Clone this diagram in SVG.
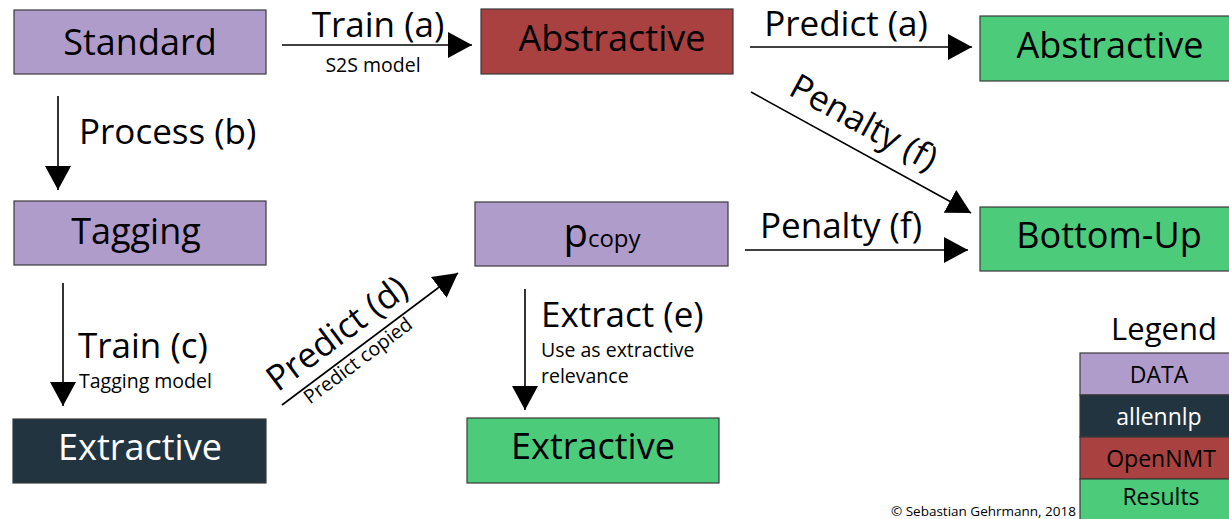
<svg xmlns="http://www.w3.org/2000/svg" width="1229" height="519" viewBox="0 0 1229 519">
<style>
text{font-family:"Open Sans","Liberation Sans",sans-serif;fill:#000}
.box{stroke:#3a3a3a;stroke-width:1.2}
.data{fill:#b09ccb}
.nlp{fill:#22343f}
.nmt{fill:#a94141}
.res{fill:#4ccb7b}
.nt{font-size:36px;text-anchor:middle}
.lb{font-size:35px}
.sm{font-size:19.5px}
.lg{font-size:23px;text-anchor:middle}
.w{fill:#fff}
.ln{stroke:#000;stroke-width:1.6;fill:none;marker-end:url(#ah)}
</style>
<defs>
<marker id="ah" markerUnits="userSpaceOnUse" markerWidth="26" markerHeight="28" refX="24" refY="13" orient="auto">
<path d="M0,0 L24,13 L0,26 Z" fill="#000"/>
</marker>
</defs>
<rect width="1229" height="519" fill="#fff"/>

<g id="connectors">
<line class="ln" x1="282" y1="45" x2="472" y2="45"/>
<line class="ln" x1="750" y1="47" x2="972" y2="47"/>
<line class="ln" x1="751" y1="92" x2="971" y2="213"/>
<line class="ln" x1="745" y1="250" x2="968" y2="250"/>
<line class="ln" x1="58" y1="96" x2="58" y2="190"/>
<line class="ln" x1="63" y1="283" x2="63" y2="406"/>
<line class="ln" x1="282" y1="405" x2="458" y2="273"/>
<line class="ln" x1="525" y1="289" x2="525" y2="410"/>
<text class="lb" x="378" y="37" text-anchor="middle">Train (a)</text>
<text class="sm" x="373" y="72" text-anchor="middle">S2S model</text>
<text class="lb" x="846" y="36" text-anchor="middle">Predict (a)</text>
<text class="lb" transform="translate(858,133) rotate(28.8)" text-anchor="middle">Penalty (f)</text>
<text class="lb" x="841" y="238" text-anchor="middle">Penalty (f)</text>
<text class="lb" x="79" y="144">Process (b)</text>
<text class="lb" x="78" y="358">Train (c)</text>
<text class="sm" x="79" y="388">Tagging model</text>
<text class="lb" transform="translate(344,343) rotate(-36.8)" text-anchor="middle">Predict (d)</text>
<text class="sm" transform="translate(362,366) rotate(-36.8)" text-anchor="middle">Predict copied</text>
<text class="lb" x="541" y="327">Extract (e)</text>
<text class="sm" x="541" y="357">Use as extractive</text>
<text class="sm" x="541" y="383">relevance</text>
</g>

<g id="standard"><rect class="box data" x="14" y="10" width="252" height="64"/><text class="nt" x="140" y="55">Standard</text></g>
<g id="abstractive-model"><rect class="box nmt" x="481" y="9" width="252" height="65"/><text class="nt" x="612" y="51">Abstractive</text></g>
<g id="abstractive-result"><rect class="box res" x="980" y="16" width="252" height="65"/><text class="nt" x="1110" y="58">Abstractive</text></g>
<g id="tagging"><rect class="box data" x="14" y="201" width="252" height="64"/><text class="nt" x="136" y="244">Tagging</text></g>
<g id="pcopy"><rect class="box data" x="475" y="202" width="253" height="64"/><text class="nt" x="602" y="247"><tspan font-size="40px">p</tspan><tspan font-size="24px">copy</tspan></text></g>
<g id="bottom-up"><rect class="box res" x="980" y="207" width="252" height="64"/><text class="nt" x="1109" y="248">Bottom-Up</text></g>
<g id="extractive-model"><rect class="box nlp" x="13" y="419" width="253" height="64"/><text class="nt w" x="140" y="460">Extractive</text></g>
<g id="extractive-result"><rect class="box res" x="467" y="418" width="252" height="65"/><text class="nt" x="593" y="459">Extractive</text></g>

<g id="legend">
<text x="1164" y="340" font-size="31px" text-anchor="middle">Legend</text>
<rect class="box data" x="1080" y="353" width="152" height="42"/><text class="lg" x="1159" y="383">DATA</text>
<rect class="box nlp" x="1080" y="395" width="152" height="42"/><text class="lg w" x="1159" y="425">allennlp</text>
<rect class="box nmt" x="1080" y="437" width="152" height="42"/><text class="lg" x="1161" y="467">OpenNMT</text>
<rect class="box res" x="1080" y="479" width="152" height="42"/><text class="lg" x="1161" y="505">Results</text>
</g>
<text x="1076" y="516" font-size="13.5px" text-anchor="end">© Sebastian Gehrmann, 2018</text>
</svg>
